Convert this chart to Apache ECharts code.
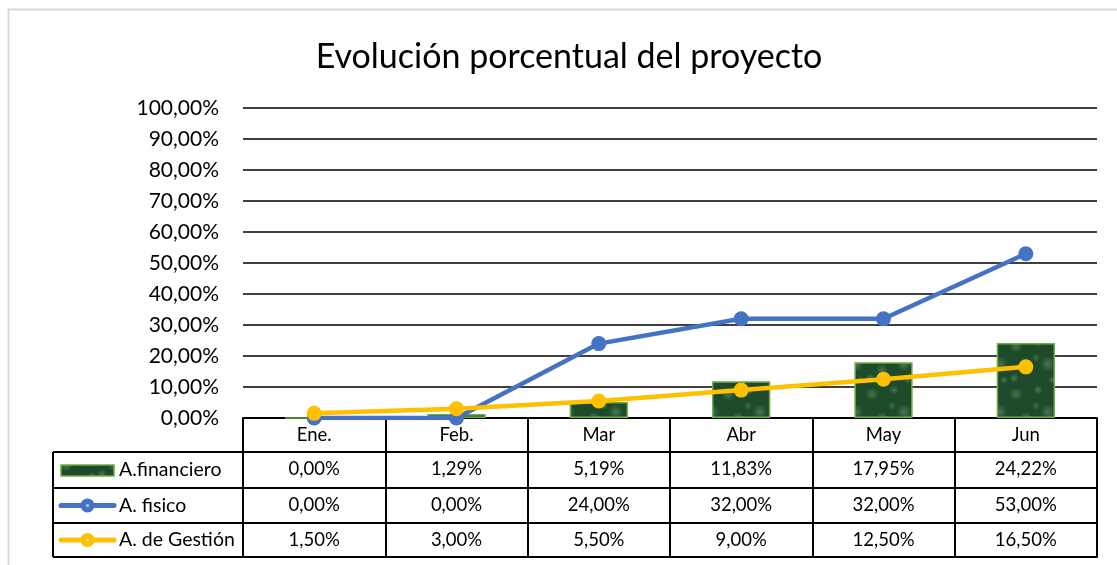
<!DOCTYPE html>
<html>
<head>
<meta charset="utf-8">
<script src="https://cdn.jsdelivr.net/npm/echarts@6/dist/echarts.min.js"></script>
<style>
  html, body { margin: 0; padding: 0; background: #fff; }
  #main { width: 1117px; height: 565px; }
</style>
</head>
<body>
<div id="main"></div>
<script>
const months = ['Ene.', 'Feb.', 'Mar', 'Abr', 'May', 'Jun'];
const financiero = [0.00, 1.29, 5.19, 11.83, 17.95, 24.22];
const fisico = [0.00, 0.00, 24.00, 32.00, 32.00, 53.00];
const gestion = [1.50, 3.00, 5.50, 9.00, 12.50, 16.50];
const seriesNames = ['A.financiero', 'A. fisico', 'A. de Gestión'];

const FONT = 'Lato';
const BLUE = '#4472C4';
const GOLD = '#FFC000';
const fmt = v => v.toFixed(2).replace('.', ',') + '%';

// mottled green fill, drawn once (fixed blobs, no randomness)
const tex = document.createElement('canvas');
tex.width = 48; tex.height = 48;
(() => {
  const c = tex.getContext('2d');
  c.fillStyle = '#1d4a29';
  c.fillRect(0, 0, 48, 48);
  const blobs = [[8, 10, 7], [30, 6, 5], [40, 28, 8], [18, 34, 6], [6, 42, 5], [28, 22, 4], [44, 44, 4]];
  blobs.forEach(([x, y, r]) => {
    const g = c.createRadialGradient(x, y, 0, x, y, r);
    g.addColorStop(0, 'rgba(110,160,110,0.5)');
    g.addColorStop(1, 'rgba(110,160,110,0)');
    c.fillStyle = g;
    c.beginPath(); c.arc(x, y, r, 0, Math.PI * 2); c.fill();
  });
})();
const barFill = { image: tex, repeat: 'repeat' };

// table geometry (below the plot)
const gridL = 243, gridR = 20, gridT = 108, gridB = 147;
const rowOffsets = [0, 34, 70, 105, 139];
const tableLeft = 53;

const tableAxis = (idx, labels) => ({
  type: 'category',
  data: labels,
  position: 'bottom',
  offset: rowOffsets[idx],
  axisLine: { show: true, lineStyle: { color: '#000', width: 2 } },
  axisTick: labels ? { show: true, length: rowOffsets[idx + 1] - rowOffsets[idx], lineStyle: { color: '#000', width: 2 } } : { show: false },
  axisLabel: labels ? { show: true, color: '#000', fontFamily: FONT, fontSize: 18.5, margin: 8 } : { show: false },
  splitLine: { show: false }
});

const rowY = i => 565 - gridB + (rowOffsets[i] + rowOffsets[i + 1]) / 2;

const legendGraphics = [];
[1, 2, 3, 4].forEach(i => {
  const y = 565 - gridB + rowOffsets[i];
  legendGraphics.push({ type: 'line', shape: { x1: tableLeft, y1: y, x2: gridL, y2: y }, style: { stroke: '#000', lineWidth: 2 } });
});
legendGraphics.push({ type: 'line', shape: { x1: tableLeft, y1: 565 - gridB + rowOffsets[1], x2: tableLeft, y2: 565 - gridB + rowOffsets[4] }, style: { stroke: '#000', lineWidth: 2 } });
legendGraphics.push({ type: 'rect', shape: { x: 61, y: rowY(1) - 5, width: 53, height: 11 }, style: { fill: barFill, stroke: '#70AD47', lineWidth: 1.5 } });
[[2, BLUE, '#b4c7e7'], [3, GOLD, '#ffe699']].forEach(([i, col, dot]) => {
  const y = rowY(i);
  legendGraphics.push({ type: 'line', shape: { x1: 61, y1: y, x2: 114, y2: y }, style: { stroke: col, lineWidth: 5, lineCap: 'round' } });
  legendGraphics.push({ type: 'circle', shape: { cx: 87.5, cy: y, r: 7 }, style: { fill: col } });
  legendGraphics.push({ type: 'circle', shape: { cx: 87.5, cy: y, r: 1.6 }, style: { fill: dot } });
});
seriesNames.forEach((n, k) => {
  legendGraphics.push({ type: 'text', x: 119, y: rowY(k + 1), style: { text: n, font: '19.5px ' + FONT, fill: '#000', textVerticalAlign: 'middle' } });
});
// chart area border (top and left visible)
legendGraphics.push({ type: 'rect', shape: { x: 8.5, y: 9.5, width: 1200, height: 700 }, style: { fill: 'none', stroke: '#d9d9d9', lineWidth: 2 }, z: -1 });

const chart = echarts.init(document.getElementById('main'), null, { renderer: 'canvas' });
chart.setOption({
  animation: false,
  title: {
    text: 'Evolución porcentual del proyecto',
    left: 564, top: 35, textAlign: 'center',
    textStyle: { fontFamily: FONT, fontSize: 34, fontWeight: 'normal', color: '#000' }
  },
  grid: { left: gridL, right: gridR, top: gridT, bottom: gridB },
  xAxis: [
    tableAxis(0, months),
    tableAxis(1, financiero.map(fmt)),
    tableAxis(2, fisico.map(fmt)),
    tableAxis(3, gestion.map(fmt)),
    tableAxis(4, null)
  ],
  yAxis: {
    type: 'value', min: 0, max: 100, interval: 10,
    axisLine: { show: false }, axisTick: { show: false },
    axisLabel: { formatter: fmt, color: '#000', fontFamily: FONT, fontSize: 21, margin: 24 },
    splitLine: { lineStyle: { color: '#000', width: 1.5 } }
  },
  graphic: legendGraphics,
  series: [
    {
      name: seriesNames[0], type: 'bar', data: financiero, barWidth: '41%',
      itemStyle: { color: barFill, borderColor: '#70AD47', borderWidth: 1.5 }
    },
    {
      name: seriesNames[1], type: 'line', data: fisico,
      symbol: 'circle', symbolSize: 15,
      lineStyle: { color: BLUE, width: 4.5 }, itemStyle: { color: BLUE }
    },
    {
      type: 'scatter', data: fisico, symbolSize: 3.5, silent: true,
      itemStyle: { color: '#b4c7e7' }
    },
    {
      name: seriesNames[2], type: 'line', data: gestion,
      symbol: 'circle', symbolSize: 15,
      lineStyle: { color: GOLD, width: 4.5 }, itemStyle: { color: GOLD }
    },
    {
      type: 'scatter', data: gestion, symbolSize: 3.5, silent: true,
      itemStyle: { color: '#ffe699' }
    }
  ]
});
</script>
</body>
</html>
